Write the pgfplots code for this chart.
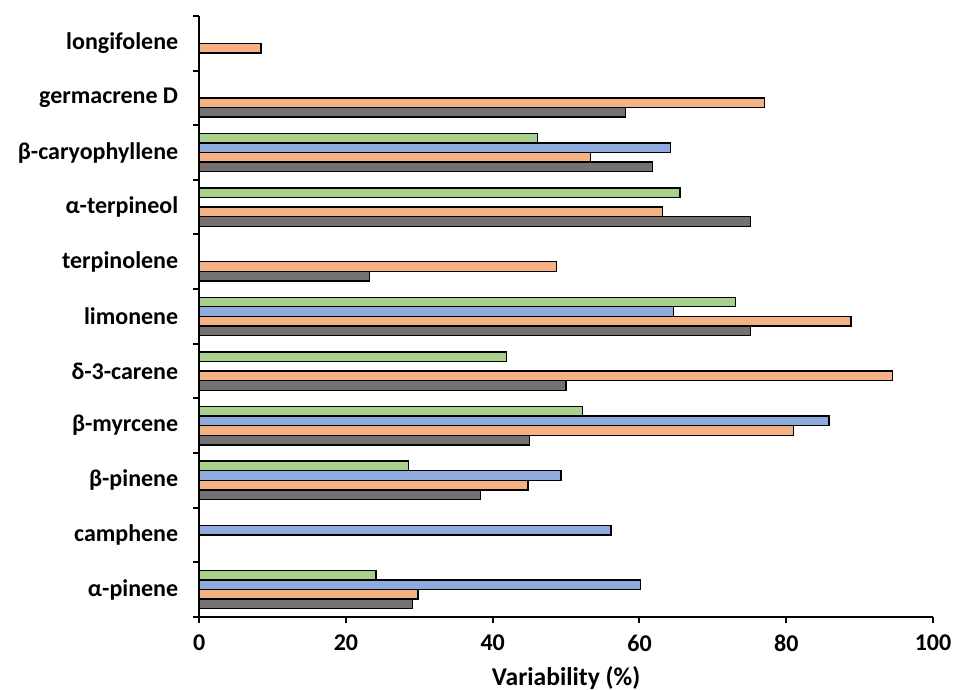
\documentclass[border=0pt]{standalone}
\usepackage{fontspec}
\setmainfont{Carlito}
\usepackage{pgfplots}
\pgfplotsset{compat=1.18}

\definecolor{cgray}{HTML}{767171}
\definecolor{corange}{HTML}{F4B183}
\definecolor{cblue}{HTML}{8FAADC}
\definecolor{cgreen}{HTML}{A9D18E}

\begin{document}
\begin{tikzpicture}
\begin{axis}[
    scale only axis,
    width=367pt, height=300.5pt,
    xbar=0pt, bar width=4.8pt,
    xmin=0, xmax=100,
    ymin=-0.5, ymax=10.5,
    axis lines*=left,
    axis line style={line width=1pt},
    tick align=outside,
    major tick length=3pt,
    tick style={line width=1pt, black},
    xtick={0,20,...,100},
    ytick={-0.5,0.5,...,10.5},
    yticklabels={},
    extra y ticks={0,1,...,10},
    extra y tick labels={α-pinene,camphene,β-pinene,β-myrcene,δ-3-carene,limonene,terpinolene,α-terpineol,β-caryophyllene,germacrene D,longifolene},
    extra y tick style={major tick length=0pt},
    tick label style={font=\fontsize{12}{14}\selectfont\bfseries},
    /pgf/number format/assume math mode=true,
    yticklabel style={xshift=-7pt},
    xticklabel style={yshift=-2.5pt},
    xlabel={Variability (\%)},
    xlabel style={font=\fontsize{12.8}{15}\selectfont\bfseries,
        at={(axis description cs:0.5,0)}, anchor=center, yshift=-30.5pt},
    every axis plot/.append style={draw=black, line width=0.7pt},
]
\coordinate (O) at (rel axis cs:0,0);
% gray
\addplot[fill=cgray] coordinates {
    (29.1,0) (38.3,2) (45.0,3) (50.0,4) (75.1,5) (23.2,6) (75.1,7) (61.8,8) (58.1,9)};
% orange
\addplot[fill=corange] coordinates {
    (29.8,0) (44.8,2) (81.0,3) (94.5,4) (88.8,5) (48.7,6) (63.1,7) (53.3,8) (77.0,9) (8.4,10)};
% blue
\addplot[fill=cblue] coordinates {
    (60.1,0) (56.1,1) (49.3,2) (85.8,3) (64.6,5) (64.2,8)};
% green
\addplot[fill=cgreen] coordinates {
    (24.1,0) (28.5,2) (52.2,3) (41.9,4) (73.1,5) (65.5,7) (46.1,8)};
\end{axis}
\pgfresetboundingbox
\path (O) ++(-99.65pt,-36.5pt) rectangle ++(477.15pt,345pt);
\end{tikzpicture}
\end{document}
